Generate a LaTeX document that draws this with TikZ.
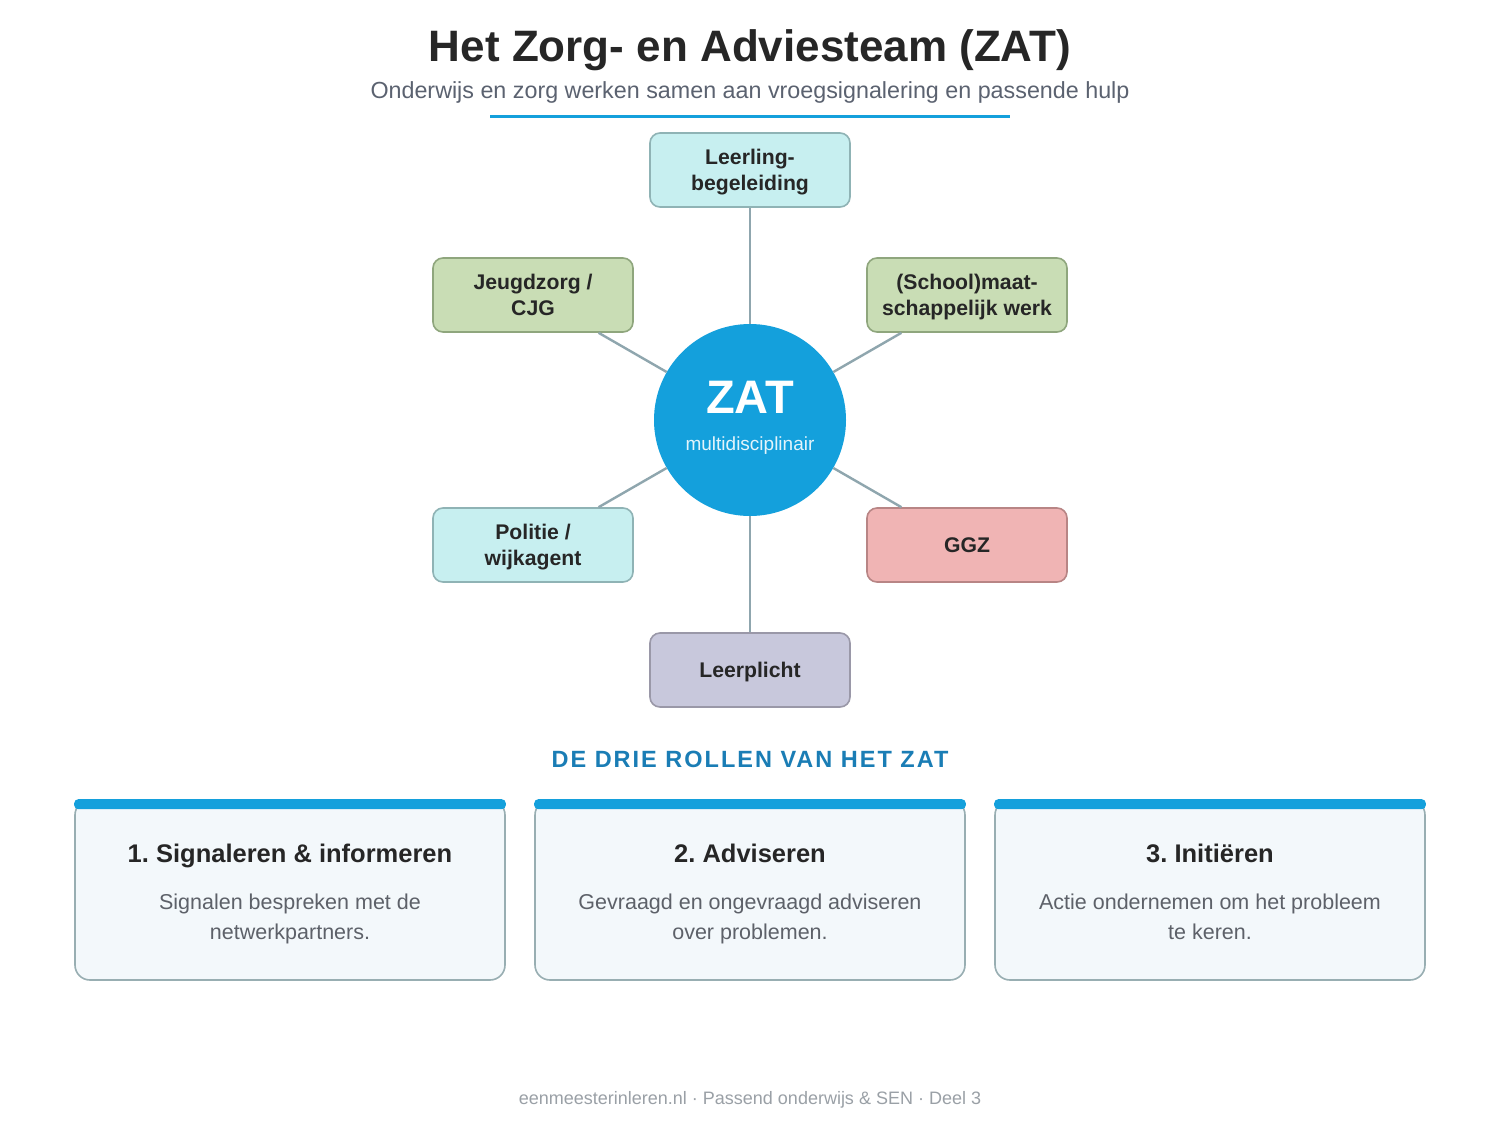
\documentclass[tikz,border=0pt]{standalone}
\usepackage{fontspec}
\setmainfont{Liberation Sans}
\newfontfamily\headfont[LetterSpace=8.5]{Liberation Sans}
\definecolor{zblue}{HTML}{14A0DC}
\definecolor{ztitle}{HTML}{262626}
\definecolor{zsub}{HTML}{5B6270}
\definecolor{zline}{HTML}{8FA6AE}
\definecolor{cyanfill}{HTML}{C7EFF0}
\definecolor{cyanbord}{HTML}{8FB3B5}
\definecolor{greenfill}{HTML}{C9DDB5}
\definecolor{greenbord}{HTML}{8FA67D}
\definecolor{redfill}{HTML}{F0B4B4}
\definecolor{redbord}{HTML}{B88585}
\definecolor{lilfill}{HTML}{C8C8DC}
\definecolor{lilbord}{HTML}{9A98A8}
\definecolor{cardfill}{HTML}{F3F8FB}
\definecolor{cardbord}{HTML}{98AEB2}
\definecolor{zhead}{HTML}{1A7DB5}
\definecolor{zdesc}{HTML}{5D6169}
\definecolor{zfoot}{HTML}{9AA0A6}
\tikzset{
  partner/.style={draw, line width=1.6pt, rounded corners=10pt, minimum width=200pt, minimum height=74pt,
    inner sep=0pt, align=center, text=ztitle, text depth=0pt, font=\fontsize{21.2}{26}\selectfont\bfseries},
  conn/.style={draw=zline, line width=2.4pt},
  card/.style={draw=cardbord, fill=cardfill, line width=1.6pt, rounded corners=15pt, minimum width=430pt, minimum height=180pt, inner sep=0pt},
  cardtitle/.style={anchor=base, text=ztitle, font=\fontsize{25.5}{30}\selectfont\bfseries},
  carddesc/.style={anchor=base, text=zdesc, align=center, font=\fontsize{21.5}{30}\selectfont},
}
\begin{document}
\frenchspacing
\begin{tikzpicture}[x=1pt,y=-1pt]
\useasboundingbox (0,0) rectangle (1500,1120);
\fill[white] (0,0) rectangle (1500,1120);

% title block
\node[anchor=base, text=ztitle, font=\fontsize{44}{50}\selectfont\bfseries] (title) at (750,61) {Het Zorg- en Adviesteam (ZAT)};
\node[anchor=base, text=zsub, font=\fontsize{23.3}{28}\selectfont] (subtitle) at (750,98) {Onderwijs en zorg werken samen aan vroegsignalering en passende hulp};
\coordinate (ulL) at (490,116);
\coordinate (ulR) at (1010,116);
\draw[zblue, line width=3pt] (ulL) -- (ulR);

% centre
\node[circle, fill=zblue, minimum size=192pt, inner sep=0pt] (zat) at (750,420) {};
\node[anchor=base, text=white, font=\fontsize{47}{50}\selectfont\bfseries] (zatlbl) at (750,413) {ZAT};
\node[anchor=base, text=white!88!zblue, font=\fontsize{19}{22}\selectfont] (zatsub) at (750,450) {multidisciplinair};

% partners
\node[partner, fill=cyanfill, draw=cyanbord] (lb) at (750,170) {Leerling-\\begeleiding};
\node[partner, fill=greenfill, draw=greenbord] (jz) at (533,295) {Jeugdzorg /\\CJG};
\node[partner, fill=greenfill, draw=greenbord] (sm) at (967,295) {(School)maat-\\schappelijk werk};
\node[partner, fill=cyanfill, draw=cyanbord] (po) at (533,545) {Politie /\\wijkagent};
\node[partner, fill=redfill, draw=redbord] (gg) at (967,545) {GGZ};
\node[partner, fill=lilfill, draw=lilbord] (lp) at (750,670) {Leerplicht};

\draw[conn] (zat) -- (lb);
\draw[conn] (zat) -- (jz);
\draw[conn] (zat) -- (sm);
\draw[conn] (zat) -- (po);
\draw[conn] (zat) -- (gg);
\draw[conn] (zat) -- (lp);

% roles
\node[anchor=base, text=zhead, font=\fontsize{23.5}{28}\headfont\bfseries] (head) at (750,767) {DE DRIE ROLLEN VAN HET ZAT};

\node[card] (c1) at (290,890) {};
\node[card] (c2) at (750,890) {};
\node[card] (c3) at (1210,890) {};
\foreach \c in {c1,c2,c3}{
  \fill[zblue, rounded corners=4pt] ([yshift=0pt]\c.north west) rectangle ([yshift=-10pt]\c.north east);
}
\node[cardtitle] (t1) at (290,862) {1. Signaleren \& informeren};
\node[cardtitle] (t2) at (750,862) {2. Adviseren};
\node[cardtitle] (t3) at (1210,862) {3. Initiëren};
\node[carddesc] (d1) at (290,939) {Signalen bespreken met de\\netwerkpartners.};
\node[carddesc] (d2) at (750,939) {Gevraagd en ongevraagd adviseren\\over problemen.};
\node[carddesc] (d3) at (1210,939) {Actie ondernemen om het probleem\\te keren.};

\node[anchor=base, text=zfoot, font=\fontsize{18}{22}\selectfont] (foot) at (750,1104) {eenmeesterinleren.nl · Passend onderwijs \& SEN · Deel 3};
\end{tikzpicture}
\end{document}
